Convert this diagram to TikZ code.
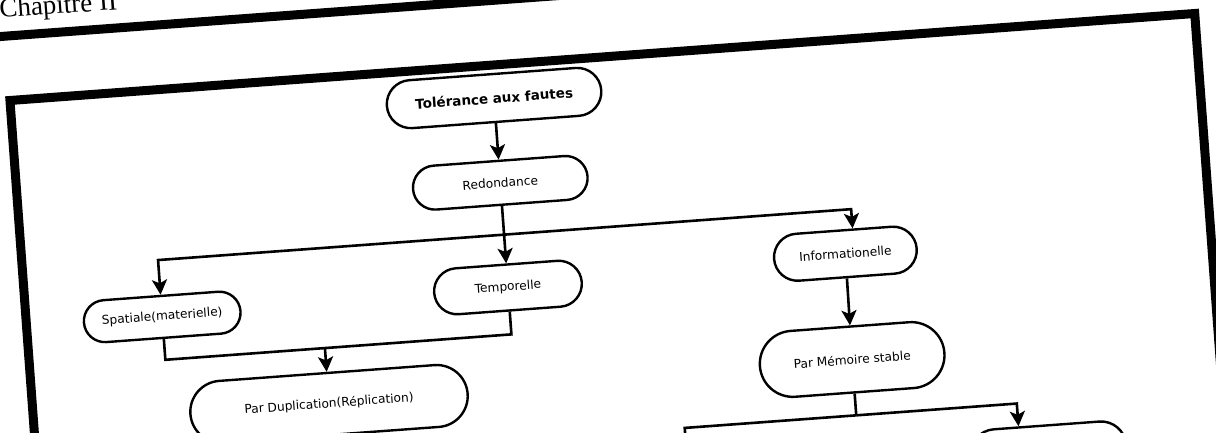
\documentclass[tikz,border=0pt]{standalone}
\usepackage{fontspec}
\setmainfont{DejaVu Sans}
\newfontfamily\chapfont{Liberation Serif}
\usetikzlibrary{shapes.misc, arrows.meta}

\begin{document}
\begin{tikzpicture}[x=1pt, y=-1pt,
  stadium/.style 2 args={draw, rounded rectangle, line width=2.4pt, inner sep=0pt,
    minimum width=#1pt, minimum height=#2pt, font=\fontsize{12.2}{14}\selectfont},
  link/.style={line width=2.6pt, line join=miter},
  flow/.style={link, -{Stealth[length=15pt, width=15pt, inset=3.5pt]}},
  rule/.style={line width=9pt, line join=miter}]

\useasboundingbox (0,0) rectangle (1216,433);
\fill[white] (0,0) rectangle (1216,433);
\clip (0,0) rectangle (1216,433);

\begin{scope}[rotate around={4.2:(608,216)}, transform shape]
  % page header and outer frame
  \node[anchor=base west, inner sep=0pt, font=\chapfont\fontsize{27}{30}\selectfont]
    (chap) at (16,-26) {Chapitre II};
  \draw[rule] (-100,-7.5) -- (1400,-7.5);
  \draw[rule] (20,700) -- (20,57) -- (1208,57) -- (1208,700);

  % nodes
  \node[stadium={215}{48}, font=\bfseries\fontsize{13.5}{16}\selectfont]
    (tol) at (503,90) {Tolérance aux fautes};
  \node[stadium={175}{44}] (red) at (503,175) {Redondance};
  \node[stadium={157}{42}] (spa) at (156,284) {Spatiale(materielle)};
  \node[stadium={148}{46}] (tem) at (503,280) {Temporelle};
  \node[stadium={143}{47}] (inf) at (842,271) {Informationelle};
  \node[stadium={278}{62}] (dup) at (316,383) {Par Duplication(Réplication)};
  \node[stadium={185}{66}] (mem) at (841,377) {Par Mémoire stable};
  \node[stadium={156}{50}] (nxt) at (1030,482) {};

  % connectors
  \coordinate (fork) at (503,227);
  \coordinate (join) at (316,327);
  \coordinate (split) at (841,433);
  \coordinate (leftdrop) at (669,520);

  \draw[flow] (tol) -- (red);
  \draw[link] (red.south) -- (fork);
  \draw[flow] (fork) -- (tem.north);
  \draw[flow] (fork) -| (spa.north);
  \draw[flow] (fork) -| ([xshift=9pt]inf.north);

  \draw[link] (spa.south) |- (tem.south |- join) -- (tem.south);
  \draw[flow] (join) -- (dup.north);

  \draw[flow] (inf) -- (mem);
  \draw[link] (mem.south) -- (split);
  \draw[link] (split) -| (leftdrop);
  \draw[flow] (split) -| ([xshift=-28pt]nxt.north);
\end{scope}
\end{tikzpicture}
\end{document}
